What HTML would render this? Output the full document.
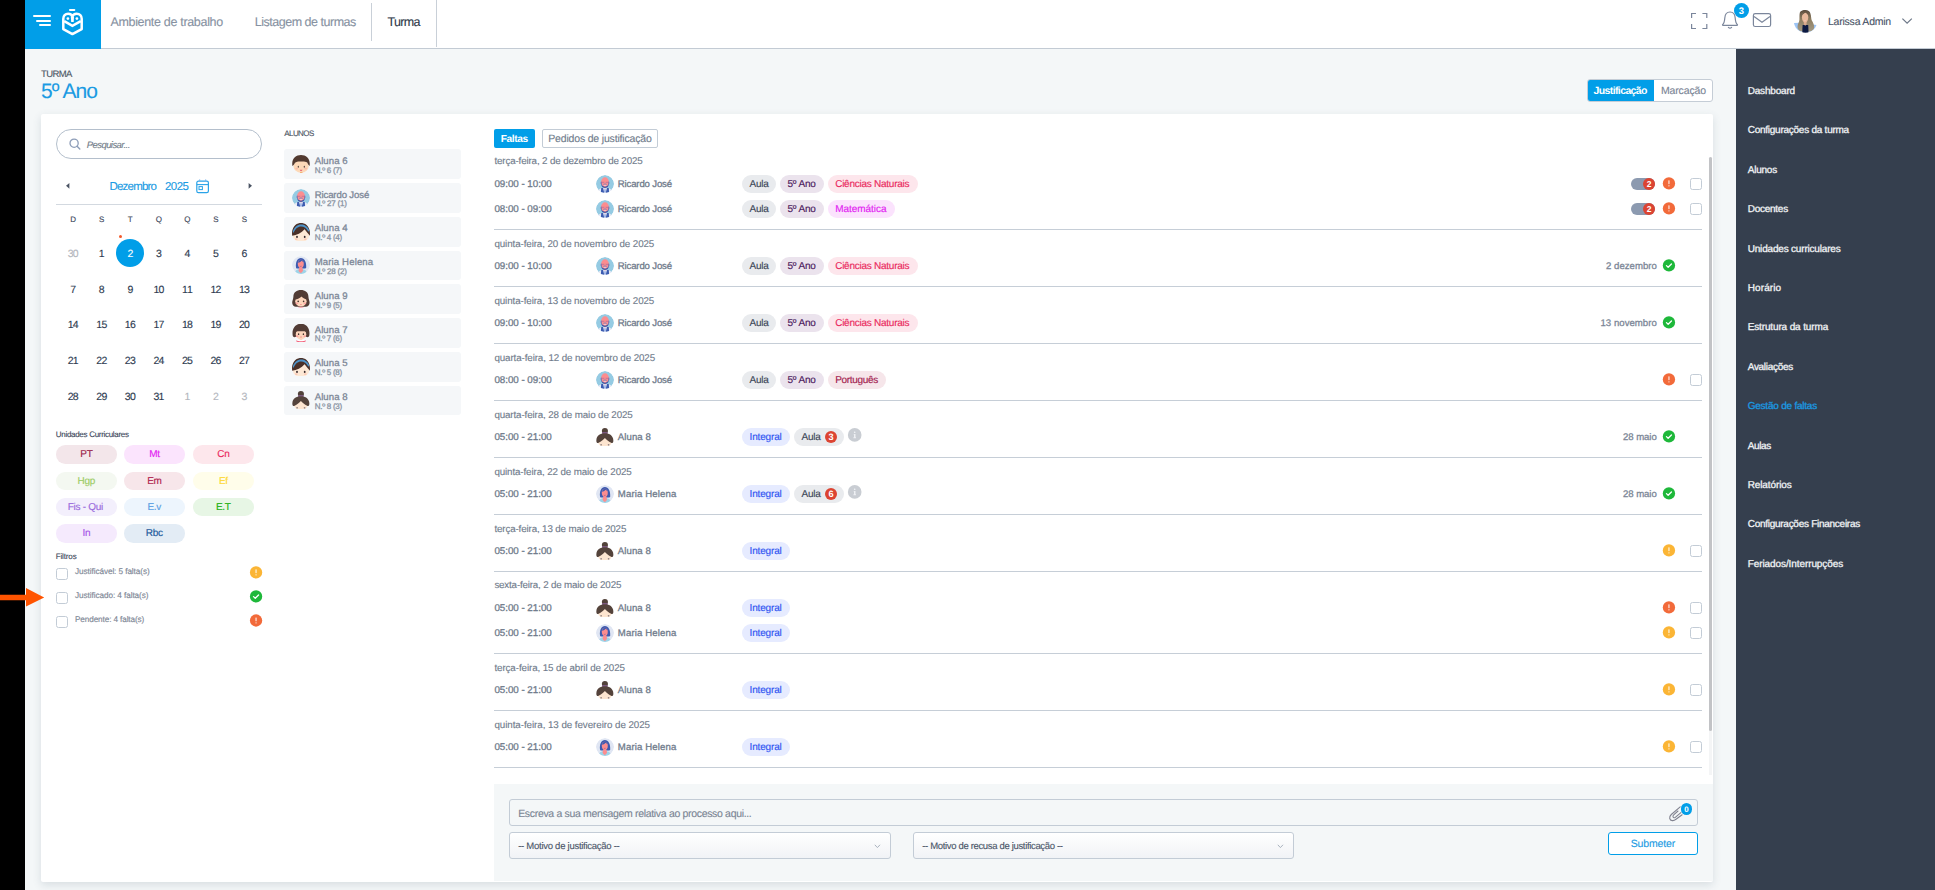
<!DOCTYPE html>
<html lang="pt"><head><meta charset="utf-8"><title>Turma - 5º Ano</title>
<style>
html,body{margin:0;padding:0;}
body{width:1935px;height:890px;overflow:hidden;background:#000;font-family:"Liberation Sans",sans-serif;position:relative;text-rendering:geometricPrecision;}
.b{position:absolute;box-sizing:border-box;}
.t{position:absolute;white-space:nowrap;line-height:20px;}
svg{position:absolute;overflow:visible;}
#app{position:absolute;left:25px;top:0;width:1910px;height:890px;background:#f4f7f8;}
</style></head><body>
<div id="app"></div>

<div class="b" style="left:25px;top:0px;width:1910px;height:48px;background:#fff;"></div>
<div class="b" style="left:25px;top:48px;width:1910px;height:1px;background:#c3cbd4;"></div>
<div class="b" style="left:25px;top:0px;width:76px;height:49px;background:#019ee8;"></div>
<div class="b" style="left:33px;top:15px;width:18px;height:2px;background:#fff;border-radius:1px;"></div>
<div class="b" style="left:36px;top:20px;width:15px;height:2px;background:#fff;border-radius:1px;"></div>
<div class="b" style="left:39px;top:24px;width:12px;height:2px;background:#fff;border-radius:1px;"></div>
<svg style="left:60px;top:7px" width="26" height="30" viewBox="60 7 26 30"><rect x="69" y="8.9" width="6.3" height="2.1" rx="0.9" fill="#fff"/><path d="M72.4 16.4 C71.8 14.4 70 13.7 68.2 13.7 C65.2 13.7 63.3 15.8 63.3 18.8 V29.1 L72.4 34.1 L81.7 29.1 V18.8 C81.7 15.8 79.7 13.7 76.7 13.7 C74.8 13.7 73 14.4 72.4 16.4 Z" fill="none" stroke="#fff" stroke-width="2.5" stroke-linejoin="round"/><path d="M64.2 21.2 L72.4 25.9 L80.8 21.2" fill="none" stroke="#fff" stroke-width="2.5" stroke-linejoin="miter"/><path d="M70.8 16.6 L74 16.6 L73.7 21.9 L71.2 21.9 Z" fill="#fff"/><circle cx="67.9" cy="18.6" r="1.35" fill="#fff"/><circle cx="76.9" cy="18.6" r="1.35" fill="#fff"/></svg>
<span class="t" style="left:110.40px;top:12px;font-size:12.5px;color:#8792a2;letter-spacing:-0.318px;-webkit-text-stroke:0.12px #8792a2;">Ambiente de trabalho</span>
<span class="t" style="left:254.80px;top:12px;font-size:12.5px;color:#8792a2;letter-spacing:-0.487px;-webkit-text-stroke:0.12px #8792a2;">Listagem de turmas</span>
<span class="t" style="left:387.50px;top:12px;font-size:12.5px;color:#2f3949;letter-spacing:-0.663px;-webkit-text-stroke:0.12px #2f3949;">Turma</span>
<div class="b" style="left:371px;top:3px;width:1px;height:38px;background:#c9d0d8;"></div>
<div class="b" style="left:436px;top:0px;width:1px;height:47px;background:#c9d0d8;"></div>
<svg style="left:1690px;top:12px" width="19" height="18" viewBox="0 0 19 18"><path d="M1.6 6 V1.5 H6 M12.4 1.5 H16.8 V6 M16.8 12 V16.5 H12.4 M6 16.5 H1.6 V12" fill="none" stroke="#7b869b" stroke-width="1.2"/></svg>
<svg style="left:1721px;top:10px" width="18" height="20" viewBox="0 0 18 20"><path d="M1.6 14.6 C3.4 13.2 3.6 11 3.8 8 C4 4.4 6 2 9 2 C12 2 14 4.4 14.2 8 C14.4 11 14.6 13.2 16.4 14.6 C16.6 15 16.4 15.3 16 15.3 H2 C1.6 15.3 1.4 15 1.6 14.6 Z" fill="none" stroke="#7b869b" stroke-width="1.2" stroke-linejoin="round"/><path d="M7.4 17.4 Q9 19 10.6 17.4" fill="none" stroke="#7b869b" stroke-width="1.2" stroke-linecap="round"/></svg>
<div class="b" style="left:1734px;top:2.9px;width:14.9px;height:14.9px;background:#019ee8;border-radius:50%;"></div>
<span class="t" style="left:1738.86px;top:2px;font-size:9.5px;color:#fff;font-weight:700;">3</span>
<svg style="left:1752px;top:12px" width="20" height="16" viewBox="0 0 20 16"><rect x="1.4" y="1.7" width="17.2" height="12.8" rx="1.8" fill="none" stroke="#7b869b" stroke-width="1.2"/><path d="M2 4.4 L10 10.2 L18 4.4" fill="none" stroke="#7b869b" stroke-width="1.2"/></svg>
<svg style="left:1794px;top:9px" width="24" height="25" viewBox="-1 -0.5 24 25"><defs><clipPath id="pc"><circle cx="10.5" cy="11.5" r="11.7"/></clipPath><linearGradient id="hg" x1="0" y1="0" x2="0" y2="1"><stop offset="0" stop-color="#5a4a3c"/><stop offset="0.45" stop-color="#8f7f62"/><stop offset="1" stop-color="#a39a84"/></linearGradient></defs><g clip-path="url(#pc)"><path d="M-1 13.6 L4 13.2 L7 22 L-1 24 Z M22 15.6 L17 15 L14 22.4 L22 24 Z" fill="#9cc4f5"/><path d="M5 2.6 C6 0.7 9 0.3 10.4 0.4 C13 0.4 15 1.6 15.4 4 C16.4 7 16 9 16.8 11 C18 13 19.5 15.6 19.1 18.4 C18.7 20.6 16.4 21.8 14.6 22 L6 21.8 C4 21.2 2.5 19.4 2.5 17.4 C2.5 14.6 4.2 13 4.4 10.6 C4.6 8 4.2 5 5 2.6 Z" fill="url(#hg)"/><path d="M7.6 15.4 L13.2 15.4 L13.6 23.6 L7.2 23.6 Z" fill="#0c1a42"/><path d="M8.8 11.4 h2.8 v3.6 l-1.4 1.2 l-1.4 -1.2 Z" fill="#d9a98e"/><ellipse cx="10.1" cy="7.8" rx="3.2" ry="5.2" fill="#e9b99c"/><path d="M6.9 6 C7.4 3 9 1.8 10.6 1.9 C12.4 2 13.4 3.6 13.4 6 C12.6 4.6 11.6 3.6 10.4 3.2 C9 3.8 7.6 4.8 6.9 6 Z" fill="#6a5844"/><path d="M8.6 10.2 Q10.1 11.4 11.6 10.2 Q10.1 10.8 8.6 10.2 Z" fill="#f5e6e0"/></g></svg>
<svg style="left:1901px;top:17px" width="12" height="8" viewBox="0 0 12 8"><path d="M1.4 1.6 L6.1 6.2 L10.8 1.6" fill="none" stroke="#6c7787" stroke-width="1.2"/></svg>
<span class="t" style="left:1828.00px;top:12px;font-size:10.5px;color:#4a5468;letter-spacing:-0.229px;-webkit-text-stroke:0.12px #4a5468;">Larissa Admin</span>
<span class="t" style="left:41.00px;top:65px;font-size:9.5px;color:#4b5563;letter-spacing:-0.619px;-webkit-text-stroke:0.12px #4b5563;">TURMA</span>
<span class="t" style="left:41.00px;top:82px;font-size:21px;color:#1b9be3;letter-spacing:-0.878px;-webkit-text-stroke:0.12px #1b9be3;">5º Ano</span>
<div class="b" style="left:1587px;top:79px;width:126px;height:23px;background:#fff;border:1px solid #c5cdd6;border-radius:3px;"></div>
<div class="b" style="left:1588px;top:80px;width:66px;height:21px;background:#019ee8;border-radius:2px 0 0 2px;"></div>
<span class="t" style="left:1593.50px;top:81px;font-size:10.5px;color:#fff;letter-spacing:-0.609px;font-weight:700;">Justificação</span>
<span class="t" style="left:1661.00px;top:81px;font-size:10.5px;color:#7a8595;letter-spacing:-0.158px;-webkit-text-stroke:0.12px #7a8595;">Marcação</span>
<div class="b" style="left:41px;top:114px;width:1672px;height:768px;background:#fff;border-radius:2px;box-shadow:0 3px 9px rgba(70,95,115,0.16);"></div>
<div class="b" style="left:1736px;top:49px;width:199px;height:841px;background:#353f4e;"></div>
<span class="t" style="left:1747.70px;top:82px;font-size:10px;color:#f1f3f5;letter-spacing:-0.178px;-webkit-text-stroke:0.3px #f1f3f5;">Dashboard</span>
<span class="t" style="left:1747.70px;top:121px;font-size:10px;color:#f1f3f5;letter-spacing:-0.249px;-webkit-text-stroke:0.3px #f1f3f5;">Configurações da turma</span>
<span class="t" style="left:1747.70px;top:161px;font-size:10px;color:#f1f3f5;letter-spacing:-0.215px;-webkit-text-stroke:0.3px #f1f3f5;">Alunos</span>
<span class="t" style="left:1747.70px;top:200px;font-size:10px;color:#f1f3f5;letter-spacing:-0.250px;-webkit-text-stroke:0.3px #f1f3f5;">Docentes</span>
<span class="t" style="left:1747.70px;top:240px;font-size:10px;color:#f1f3f5;letter-spacing:-0.186px;-webkit-text-stroke:0.3px #f1f3f5;">Unidades curriculares</span>
<span class="t" style="left:1747.70px;top:279px;font-size:10px;color:#f1f3f5;letter-spacing:0.118px;-webkit-text-stroke:0.3px #f1f3f5;">Horário</span>
<span class="t" style="left:1747.70px;top:318px;font-size:10px;color:#f1f3f5;letter-spacing:-0.136px;-webkit-text-stroke:0.3px #f1f3f5;">Estrutura da turma</span>
<span class="t" style="left:1747.70px;top:358px;font-size:10px;color:#f1f3f5;letter-spacing:-0.298px;-webkit-text-stroke:0.3px #f1f3f5;">Avaliações</span>
<span class="t" style="left:1747.70px;top:397px;font-size:10px;color:#1b9be3;letter-spacing:-0.222px;-webkit-text-stroke:0.3px #1b9be3;">Gestão de faltas</span>
<span class="t" style="left:1747.70px;top:437px;font-size:10px;color:#f1f3f5;letter-spacing:-0.379px;-webkit-text-stroke:0.3px #f1f3f5;">Aulas</span>
<span class="t" style="left:1747.70px;top:476px;font-size:10px;color:#f1f3f5;letter-spacing:-0.113px;-webkit-text-stroke:0.3px #f1f3f5;">Relatórios</span>
<span class="t" style="left:1747.70px;top:515px;font-size:10px;color:#f1f3f5;letter-spacing:-0.269px;-webkit-text-stroke:0.3px #f1f3f5;">Configurações Financeiras</span>
<span class="t" style="left:1747.70px;top:555px;font-size:10px;color:#f1f3f5;letter-spacing:-0.089px;-webkit-text-stroke:0.3px #f1f3f5;">Feriados/Interrupções</span>
<div class="b" style="left:56px;top:129px;width:206px;height:30px;border:1px solid #b4bfcc;border-radius:15px;background:#fff;"></div>
<svg style="left:68px;top:137px" width="14" height="14" viewBox="0 0 14 14"><circle cx="6.1" cy="6.2" r="4.1" fill="none" stroke="#8d9db8" stroke-width="1.3"/><path d="M9.1 9.3 L11.8 12" stroke="#8d9db8" stroke-width="1.4" stroke-linecap="round"/></svg>
<span class="t" style="left:86.80px;top:136px;font-size:9.5px;color:#737d8a;letter-spacing:-0.574px;-webkit-text-stroke:0.12px #737d8a;font-style:italic;">Pesquisar...</span>
<svg style="left:65px;top:181px" width="6" height="10" viewBox="0 0 6 10"><path d="M4.4 1.9 L4.4 7.7 L1 4.8 Z" fill="#4a5363"/></svg>
<svg style="left:247px;top:181px" width="6" height="10" viewBox="0 0 6 10"><path d="M1.6 1.9 L1.6 7.7 L5 4.8 Z" fill="#4a5363"/></svg>
<span class="t" style="left:109.40px;top:177px;font-size:11.5px;color:#1b9be3;letter-spacing:-0.778px;-webkit-text-stroke:0.12px #1b9be3;">Dezembro</span>
<span class="t" style="left:165.00px;top:177px;font-size:11.5px;color:#1b9be3;letter-spacing:-0.528px;-webkit-text-stroke:0.12px #1b9be3;">2025</span>
<svg style="left:196px;top:179px" width="14" height="15" viewBox="0 0 14 15"><rect x="0.8" y="2.2" width="11.6" height="11.4" rx="1.6" fill="none" stroke="#2aa3e8" stroke-width="1.2"/><path d="M0.8 5.6 H12.4" stroke="#2aa3e8" stroke-width="1.1"/><path d="M3.6 0.4 V2.4 M9.6 0.4 V2.4" stroke="#7fb6ee" stroke-width="1.2"/><rect x="3" y="7.6" width="3.4" height="3" fill="none" stroke="#2aa3e8" stroke-width="1"/></svg>
<div class="b" style="left:56px;top:204px;width:206px;height:1px;background:#d3d9e0;"></div>
<span class="t" style="left:70.36px;top:210px;font-size:8px;color:#3a4558;-webkit-text-stroke:0.12px #3a4558;">D</span>
<span class="t" style="left:99.11px;top:210px;font-size:8px;color:#3a4558;-webkit-text-stroke:0.12px #3a4558;">S</span>
<span class="t" style="left:127.87px;top:210px;font-size:8px;color:#3a4558;-webkit-text-stroke:0.12px #3a4558;">T</span>
<span class="t" style="left:155.73px;top:210px;font-size:8px;color:#3a4558;-webkit-text-stroke:0.12px #3a4558;">Q</span>
<span class="t" style="left:184.26px;top:210px;font-size:8px;color:#3a4558;-webkit-text-stroke:0.12px #3a4558;">Q</span>
<span class="t" style="left:213.23px;top:210px;font-size:8px;color:#3a4558;-webkit-text-stroke:0.12px #3a4558;">S</span>
<span class="t" style="left:241.76px;top:210px;font-size:8px;color:#3a4558;-webkit-text-stroke:0.12px #3a4558;">S</span>
<div class="b" style="left:116px;top:238.8px;width:28px;height:28px;background:#019ee8;border-radius:50%;"></div>
<div class="b" style="left:118.9px;top:235px;width:3px;height:3px;background:#f4592a;border-radius:50%;"></div>
<span class="t" style="left:67.80px;top:244px;font-size:10.5px;color:#b3b6bd;letter-spacing:-0.780px;-webkit-text-stroke:0.12px #b3b6bd;">30</span>
<span class="t" style="left:98.86px;top:244px;font-size:10.5px;color:#2d3a4f;-webkit-text-stroke:0.12px #2d3a4f;">1</span>
<span class="t" style="left:127.39px;top:244px;font-size:10.5px;color:#fff;-webkit-text-stroke:0.12px #fff;">2</span>
<span class="t" style="left:155.92px;top:244px;font-size:10.5px;color:#2d3a4f;-webkit-text-stroke:0.12px #2d3a4f;">3</span>
<span class="t" style="left:184.45px;top:244px;font-size:10.5px;color:#2d3a4f;-webkit-text-stroke:0.12px #2d3a4f;">4</span>
<span class="t" style="left:212.98px;top:244px;font-size:10.5px;color:#2d3a4f;-webkit-text-stroke:0.12px #2d3a4f;">5</span>
<span class="t" style="left:241.51px;top:244px;font-size:10.5px;color:#2d3a4f;-webkit-text-stroke:0.12px #2d3a4f;">6</span>
<span class="t" style="left:70.33px;top:280px;font-size:10.5px;color:#2d3a4f;-webkit-text-stroke:0.12px #2d3a4f;">7</span>
<span class="t" style="left:98.86px;top:280px;font-size:10.5px;color:#2d3a4f;-webkit-text-stroke:0.12px #2d3a4f;">8</span>
<span class="t" style="left:127.39px;top:280px;font-size:10.5px;color:#2d3a4f;-webkit-text-stroke:0.12px #2d3a4f;">9</span>
<span class="t" style="left:153.39px;top:280px;font-size:10.5px;color:#2d3a4f;letter-spacing:-0.780px;-webkit-text-stroke:0.12px #2d3a4f;">10</span>
<span class="t" style="left:181.92px;top:280px;font-size:10.5px;color:#2d3a4f;letter-spacing:-0.000px;-webkit-text-stroke:0.12px #2d3a4f;">11</span>
<span class="t" style="left:210.45px;top:280px;font-size:10.5px;color:#2d3a4f;letter-spacing:-0.780px;-webkit-text-stroke:0.12px #2d3a4f;">12</span>
<span class="t" style="left:238.98px;top:280px;font-size:10.5px;color:#2d3a4f;letter-spacing:-0.780px;-webkit-text-stroke:0.12px #2d3a4f;">13</span>
<span class="t" style="left:67.80px;top:315px;font-size:10.5px;color:#2d3a4f;letter-spacing:-0.780px;-webkit-text-stroke:0.12px #2d3a4f;">14</span>
<span class="t" style="left:96.33px;top:315px;font-size:10.5px;color:#2d3a4f;letter-spacing:-0.780px;-webkit-text-stroke:0.12px #2d3a4f;">15</span>
<span class="t" style="left:124.86px;top:315px;font-size:10.5px;color:#2d3a4f;letter-spacing:-0.780px;-webkit-text-stroke:0.12px #2d3a4f;">16</span>
<span class="t" style="left:153.39px;top:315px;font-size:10.5px;color:#2d3a4f;letter-spacing:-0.780px;-webkit-text-stroke:0.12px #2d3a4f;">17</span>
<span class="t" style="left:181.92px;top:315px;font-size:10.5px;color:#2d3a4f;letter-spacing:-0.780px;-webkit-text-stroke:0.12px #2d3a4f;">18</span>
<span class="t" style="left:210.45px;top:315px;font-size:10.5px;color:#2d3a4f;letter-spacing:-0.780px;-webkit-text-stroke:0.12px #2d3a4f;">19</span>
<span class="t" style="left:238.98px;top:315px;font-size:10.5px;color:#2d3a4f;letter-spacing:-0.780px;-webkit-text-stroke:0.12px #2d3a4f;">20</span>
<span class="t" style="left:67.80px;top:351px;font-size:10.5px;color:#2d3a4f;letter-spacing:-0.780px;-webkit-text-stroke:0.12px #2d3a4f;">21</span>
<span class="t" style="left:96.33px;top:351px;font-size:10.5px;color:#2d3a4f;letter-spacing:-0.780px;-webkit-text-stroke:0.12px #2d3a4f;">22</span>
<span class="t" style="left:124.86px;top:351px;font-size:10.5px;color:#2d3a4f;letter-spacing:-0.780px;-webkit-text-stroke:0.12px #2d3a4f;">23</span>
<span class="t" style="left:153.39px;top:351px;font-size:10.5px;color:#2d3a4f;letter-spacing:-0.780px;-webkit-text-stroke:0.12px #2d3a4f;">24</span>
<span class="t" style="left:181.92px;top:351px;font-size:10.5px;color:#2d3a4f;letter-spacing:-0.780px;-webkit-text-stroke:0.12px #2d3a4f;">25</span>
<span class="t" style="left:210.45px;top:351px;font-size:10.5px;color:#2d3a4f;letter-spacing:-0.780px;-webkit-text-stroke:0.12px #2d3a4f;">26</span>
<span class="t" style="left:238.98px;top:351px;font-size:10.5px;color:#2d3a4f;letter-spacing:-0.780px;-webkit-text-stroke:0.12px #2d3a4f;">27</span>
<span class="t" style="left:67.80px;top:387px;font-size:10.5px;color:#2d3a4f;letter-spacing:-0.780px;-webkit-text-stroke:0.12px #2d3a4f;">28</span>
<span class="t" style="left:96.33px;top:387px;font-size:10.5px;color:#2d3a4f;letter-spacing:-0.780px;-webkit-text-stroke:0.12px #2d3a4f;">29</span>
<span class="t" style="left:124.86px;top:387px;font-size:10.5px;color:#2d3a4f;letter-spacing:-0.780px;-webkit-text-stroke:0.12px #2d3a4f;">30</span>
<span class="t" style="left:153.39px;top:387px;font-size:10.5px;color:#2d3a4f;letter-spacing:-0.780px;-webkit-text-stroke:0.12px #2d3a4f;">31</span>
<span class="t" style="left:184.45px;top:387px;font-size:10.5px;color:#b3b6bd;-webkit-text-stroke:0.12px #b3b6bd;">1</span>
<span class="t" style="left:212.98px;top:387px;font-size:10.5px;color:#b3b6bd;-webkit-text-stroke:0.12px #b3b6bd;">2</span>
<span class="t" style="left:241.51px;top:387px;font-size:10.5px;color:#b3b6bd;-webkit-text-stroke:0.12px #b3b6bd;">3</span>
<span class="t" style="left:55.80px;top:425px;font-size:8px;color:#3a4558;letter-spacing:-0.297px;-webkit-text-stroke:0.12px #3a4558;">Unidades Curriculares</span>
<div class="b" style="left:56.1px;top:445.1px;width:60.8px;height:18.5px;background:#f3e6ea;border-radius:9.3px;"></div>
<span class="t" style="left:80.31px;top:445px;font-size:10px;color:#9c1f4c;-webkit-text-stroke:0.16px #9c1f4c;letter-spacing:-0.3px;">PT</span>
<div class="b" style="left:124.1px;top:445.1px;width:60.8px;height:18.5px;background:#fbe4fd;border-radius:9.3px;"></div>
<span class="t" style="left:149.15px;top:445px;font-size:10px;color:#e320f2;-webkit-text-stroke:0.16px #e320f2;letter-spacing:-0.3px;">Mt</span>
<div class="b" style="left:193.1px;top:445.1px;width:60.8px;height:18.5px;background:#fde7ec;border-radius:9.3px;"></div>
<span class="t" style="left:217.31px;top:445px;font-size:10px;color:#ea2a5e;-webkit-text-stroke:0.16px #ea2a5e;letter-spacing:-0.3px;">Cn</span>
<div class="b" style="left:56.1px;top:471.5px;width:60.8px;height:18.5px;background:#f4f8f1;border-radius:9.3px;"></div>
<span class="t" style="left:77.53px;top:472px;font-size:10px;color:#9ccc65;-webkit-text-stroke:0.16px #9ccc65;letter-spacing:-0.3px;">Hgp</span>
<div class="b" style="left:124.1px;top:471.5px;width:60.8px;height:18.5px;background:#f7e6ea;border-radius:9.3px;"></div>
<span class="t" style="left:147.20px;top:472px;font-size:10px;color:#b01e4e;-webkit-text-stroke:0.16px #b01e4e;letter-spacing:-0.3px;">Em</span>
<div class="b" style="left:193.1px;top:471.5px;width:60.8px;height:18.5px;background:#fffdea;border-radius:9.3px;"></div>
<span class="t" style="left:218.98px;top:472px;font-size:10px;color:#fdd835;-webkit-text-stroke:0.16px #fdd835;letter-spacing:-0.3px;">Ef</span>
<div class="b" style="left:56.1px;top:497.8px;width:60.8px;height:18.5px;background:#f3effc;border-radius:9.3px;"></div>
<span class="t" style="left:67.81px;top:498px;font-size:10px;color:#9a6bdc;-webkit-text-stroke:0.16px #9a6bdc;letter-spacing:-0.3px;">Fis - Qui</span>
<div class="b" style="left:124.1px;top:497.8px;width:60.8px;height:18.5px;background:#edf5fd;border-radius:9.3px;"></div>
<span class="t" style="left:147.48px;top:498px;font-size:10px;color:#5b9fe3;-webkit-text-stroke:0.16px #5b9fe3;letter-spacing:-0.3px;">E.v</span>
<div class="b" style="left:193.1px;top:497.8px;width:60.8px;height:18.5px;background:#e7f6e5;border-radius:9.3px;"></div>
<span class="t" style="left:215.92px;top:498px;font-size:10px;color:#1eb010;-webkit-text-stroke:0.16px #1eb010;letter-spacing:-0.3px;">E.T</span>
<div class="b" style="left:56.1px;top:524.2px;width:60.8px;height:18.5px;background:#f5eafd;border-radius:9.3px;"></div>
<span class="t" style="left:82.53px;top:524px;font-size:10px;color:#a855e8;-webkit-text-stroke:0.16px #a855e8;letter-spacing:-0.3px;">In</span>
<div class="b" style="left:124.1px;top:524.2px;width:60.8px;height:18.5px;background:#e3ecf5;border-radius:9.3px;"></div>
<span class="t" style="left:145.81px;top:524px;font-size:10px;color:#1e5a9c;-webkit-text-stroke:0.16px #1e5a9c;letter-spacing:-0.3px;">Rbc</span>
<span class="t" style="left:55.70px;top:547px;font-size:8px;color:#3a4558;letter-spacing:-0.130px;-webkit-text-stroke:0.12px #3a4558;">Filtros</span>
<div class="b" style="left:56.2px;top:568.2px;width:11.8px;height:11.7px;border:1px solid #c3ccd6;border-radius:2.5px;background:#fff;"></div>
<span class="t" style="left:75.00px;top:562px;font-size:8.2px;color:#7f8997;letter-spacing:-0.077px;-webkit-text-stroke:0.16px #7f8997;">Justificável: 5 falta(s)</span>
<svg style="left:248px;top:565px" width="16" height="16" viewBox="0 0 16 16"><g transform="translate(1.85 1.20)"><circle cx="6.2" cy="6.2" r="6.15" fill="#fbb535"/><rect x="5.65" y="3.1" width="1.1" height="3.9" rx="0.4" fill="#fff" opacity="0.92"/><rect x="5.65" y="8" width="1.1" height="1.2" rx="0.4" fill="#fff" opacity="0.92"/></g></svg>
<div class="b" style="left:56.2px;top:592.2px;width:11.8px;height:11.7px;border:1px solid #c3ccd6;border-radius:2.5px;background:#fff;"></div>
<span class="t" style="left:75.00px;top:586px;font-size:8.2px;color:#7f8997;letter-spacing:-0.073px;-webkit-text-stroke:0.16px #7f8997;">Justificado: 4 falta(s)</span>
<svg style="left:248px;top:589px" width="16" height="16" viewBox="0 0 16 16"><g transform="translate(1.85 1.25)"><circle cx="6.2" cy="6.2" r="6.15" fill="#1eb83a"/><path d="M3.7 6.4 L5.4 8 L8.7 4.7" fill="none" stroke="#fff" stroke-width="1.3" stroke-linecap="round" stroke-linejoin="round"/></g></svg>
<div class="b" style="left:56.2px;top:616.3px;width:11.8px;height:11.7px;border:1px solid #c3ccd6;border-radius:2.5px;background:#fff;"></div>
<span class="t" style="left:75.00px;top:610px;font-size:8.2px;color:#7f8997;letter-spacing:-0.114px;-webkit-text-stroke:0.16px #7f8997;">Pendente: 4 falta(s)</span>
<svg style="left:248px;top:613px" width="16" height="16" viewBox="0 0 16 16"><g transform="translate(1.85 1.30)"><circle cx="6.2" cy="6.2" r="6.15" fill="#f26a3a"/><rect x="5.65" y="3.1" width="1.1" height="3.9" rx="0.4" fill="#fff" opacity="0.92"/><rect x="5.65" y="8" width="1.1" height="1.2" rx="0.4" fill="#fff" opacity="0.92"/></g></svg>
<svg width="0" height="0" style="position:absolute;left:-10px;top:-10px"><defs>
<symbol id="av-boy" viewBox="0 0 18 18">
 <ellipse cx="9.1" cy="11.2" rx="7.6" ry="6.3" fill="#fdd9b8"/>
 <rect x="7.9" y="17" width="2.6" height="1" fill="#f4b27a"/>
 <path d="M0.4 10.9 C-0.7 4 3.6 0.1 9 0.1 C14.4 0.1 18.7 4 17.6 10.9 C16.6 10.6 15.8 9 15.2 7.6 C13 6.3 11 6.3 9 6.6 C6.6 6.3 4.6 6.8 3 7.8 C2.4 9.2 1.4 10.6 0.4 10.9 Z" fill="#523a30"/>
 <ellipse cx="6.3" cy="11.8" rx="0.6" ry="1" fill="#4a3a38"/><ellipse cx="12.3" cy="11.8" rx="0.6" ry="1" fill="#4a3a38"/>
 <ellipse cx="4.7" cy="13.6" rx="1.4" ry="0.9" fill="#fbb3a4" opacity="0.75"/><ellipse cx="13.6" cy="13.6" rx="1.4" ry="0.9" fill="#fbb3a4" opacity="0.75"/>
 <path d="M7.8 14.5 Q9.1 15.2 10.4 14.5 Q10.4 16.3 9.1 16.3 Q7.8 16.3 7.8 14.5 Z" fill="#e8707a"/>
</symbol>
<symbol id="av-ric" viewBox="0 0 18 18">
 <clipPath id="cr"><circle cx="9" cy="9" r="9"/></clipPath>
 <g clip-path="url(#cr)">
 <circle cx="9" cy="9" r="9" fill="#95cbe3"/>
 <path d="M1.4 16 C3.4 13.6 5.6 13 7 12.8 L11 12.8 C12.4 13 14.6 13.6 16.6 16 L15 19 L3 19 Z" fill="#e6e9f5"/>
 <path d="M5 18.2 L5.5 13.2 L9 12.4 L12.5 13.2 L13 18.2 Z" fill="#eef0f9"/>
 <path d="M4.9 17.4 L5.2 13.1 L7.1 12.9 L8.3 18 Z M13.1 17.4 L12.8 13.1 L10.9 12.9 L9.7 18 Z" fill="#3b5bb0"/>
 <path d="M8.5 13.8 h1 l0.5 2.4 l-1 1.8 l-1 -1.8 Z" fill="#9db3e6"/>
 <rect x="8" y="11.6" width="2" height="1.6" fill="#f9868c"/>
 <path d="M5.2 8.6 C5.2 12.6 7.4 12.9 9 12.9 C10.6 12.9 12.8 12.6 12.8 8.6 Z" fill="#3d57a8"/>
 <ellipse cx="9" cy="7" rx="3.9" ry="4.7" fill="#fc8d8f"/>
 <rect x="4.7" y="6.5" width="1" height="2.6" rx="0.4" fill="#7d67a6"/><rect x="12.3" y="6.5" width="1" height="2.6" rx="0.4" fill="#7d67a6"/>
 <path d="M5.6 7.3 h2.7 M9.7 7.3 h2.7" stroke="#b06a98" stroke-width="0.7"/>
 <ellipse cx="9" cy="9.2" rx="1.9" ry="0.65" fill="#8f7fae"/>
 <ellipse cx="9" cy="10.3" rx="1.5" ry="0.5" fill="#f6cfd6"/>
 </g>
</symbol>
<symbol id="av-band" viewBox="0 0 18 18">
 <ellipse cx="9" cy="12.4" rx="8.2" ry="6.5" fill="#fde8d5"/>
 <path d="M0.2 12.7 C-0.9 5 3.6 -0.1 9 -0.1 C14.4 -0.1 18.9 5 17.8 12.7 C16.4 11 14.4 8.6 12.6 6.3 C9.6 10 4.4 12.3 0.2 12.7 Z" fill="#4a3028"/>
 <path d="M0.8 8.6 C2.4 3.8 5.6 1.6 9 1.6 C12.4 1.6 15.7 3.4 17.3 7.4 L16.4 8.7 C14.7 5.2 12 3.4 9 3.4 C6 3.4 3.2 5.4 1.5 10 Z" fill="#4e93c8"/>
 <ellipse cx="5" cy="13.9" rx="0.9" ry="1.05" fill="#33262a"/><ellipse cx="12.7" cy="13.9" rx="0.9" ry="1.05" fill="#33262a"/>
 <ellipse cx="4.3" cy="16.1" rx="1.4" ry="0.85" fill="#fbc0ae" opacity="0.85"/><ellipse cx="13.3" cy="16.1" rx="1.4" ry="0.85" fill="#fbc0ae" opacity="0.85"/>
</symbol>
<symbol id="av-mh" viewBox="0 0 18 18">
 <clipPath id="cm"><circle cx="9" cy="9" r="9"/></clipPath>
 <g clip-path="url(#cm)">
 <circle cx="9" cy="9" r="9" fill="#e0e6f3"/>
 <path d="M4 11.6 C3.4 6 5.4 2 8.9 2 C12.4 2 14.6 6 14.2 11.6 C14.2 12.4 13.4 12.6 12.6 12.4 L5.4 12.4 C4.6 12.6 4 12.4 4 11.6 Z" fill="#3e5bb0"/>
 <ellipse cx="8.8" cy="15.7" rx="5.3" ry="2.7" fill="#9dd4e8"/>
 <path d="M7.5 10.6 L10.2 10.6 L10.4 12.6 C11.4 13.8 11.2 15.4 10 16.2 L8.8 16.9 L7.6 16.2 C6.4 15.4 6.2 13.8 7.2 12.6 Z" fill="#fc8d8f"/>
 <ellipse cx="8.8" cy="7.7" rx="3" ry="3.9" fill="#fc8d8f"/>
 <path d="M5.9 6.8 C6.4 4.6 7.6 3.7 9.2 3.8 C10.4 3.9 11.4 4.6 11.8 6.2 C10.8 5.8 10.2 5.3 9.6 4.7 C8.8 5.8 7.2 6.6 5.9 6.8 Z" fill="#3e5bb0"/>
 <path d="M7.9 10.2 Q8.8 10.8 9.7 10.2" stroke="#8a5a9a" stroke-width="0.6" fill="none"/>
 </g>
</symbol>
<symbol id="av-bob" viewBox="0 0 18 18">
 <path d="M6 17.2 Q8.8 18.6 11.8 17.2 L11.4 16 L6.4 16 Z" fill="#f9a7b4"/>
 <path d="M1.4 6.4 C1.4 2.4 4.8 0 8.9 0 C13 0 16.4 2.4 16.4 6.4 C16.4 9 17.8 10.6 17.6 13 C17.4 15.6 15.4 17.2 13.2 16.8 L4.6 16.8 C2.4 17.2 0.4 15.6 0.2 13 C0 10.6 1.4 9 1.4 6.4 Z" fill="#523c35"/>
 <ellipse cx="8.9" cy="11.2" rx="5.7" ry="5.2" fill="#fdd5bb"/>
 <path d="M3 9.6 C3.2 6.4 5.6 5.2 8.9 5.2 C12.2 5.2 14.6 6.4 14.8 9.6 C12.6 9 10.6 7.8 9.6 6.6 C8.2 8.2 5.4 9.4 3 9.6 Z" fill="#523c35"/>
 <circle cx="6.2" cy="11.4" r="0.8" fill="#43302c"/><circle cx="11.6" cy="11.4" r="0.8" fill="#43302c"/>
 <ellipse cx="4.9" cy="13.3" rx="1.4" ry="0.9" fill="#f9969a" opacity="0.8"/><ellipse cx="12.9" cy="13.3" rx="1.4" ry="0.9" fill="#f9969a" opacity="0.8"/>
 <path d="M7.8 14 Q8.9 15.2 10 14 Z" fill="#e85a6a"/>
</symbol>
<symbol id="av-bob2" viewBox="0 0 18 18">
 <path d="M0.7 11.6 C-0.4 4.6 3.6 -0.3 9 -0.3 C14.4 -0.3 18.4 4.6 17.3 11.6 C17 13.4 15.2 13.6 14.2 12.8 L3.8 12.8 C2.8 13.6 1 13.4 0.7 11.6 Z" fill="#523c35"/>
 <rect x="7.8" y="14.4" width="2.4" height="2" fill="#fbc9a8"/>
 <path d="M4.4 16.6 C6 15.4 12 15.4 13.6 16.6 C12.4 18.2 5.6 18.2 4.4 16.6 Z" fill="#fff"/>
 <path d="M4.2 16.2 C6.4 17.6 11.6 17.6 13.8 16.2 L13.6 17.4 C11.4 18.8 6.6 18.8 4.4 17.4 Z" fill="#f4607a"/>
 <ellipse cx="9" cy="10.4" rx="5.3" ry="5" fill="#fdd5bb"/>
 <path d="M3.2 7.6 C3.8 5 6 4.2 9 4.2 C12 4.2 14.2 5 14.8 7.6 C11 7 7 7 3.2 7.6 Z" fill="#523c35"/>
 <ellipse cx="6.6" cy="10.2" rx="0.7" ry="0.9" fill="#43302c"/><ellipse cx="11.4" cy="10.2" rx="0.7" ry="0.9" fill="#43302c"/>
 <ellipse cx="5.2" cy="12.2" rx="1.3" ry="0.85" fill="#f9969a" opacity="0.8"/><ellipse cx="12.8" cy="12.2" rx="1.3" ry="0.85" fill="#f9969a" opacity="0.8"/>
 <path d="M7.9 12.8 Q9 14.1 10.1 12.8 Z" fill="#e85a6a"/>
</symbol>
<symbol id="av-bun" viewBox="0 0 18 18">
 <clipPath id="cb"><rect x="-1" y="-1" width="20" height="19.2"/></clipPath>
 <g clip-path="url(#cb)">
 <ellipse cx="8.9" cy="13.6" rx="6.9" ry="5.6" fill="#fde5d0"/>
 <circle cx="8.9" cy="3.1" r="3.05" fill="#52423a"/>
 <rect x="6.1" y="4.3" width="5.5" height="1.75" rx="0.4" fill="#8a6096"/>
 <path d="M0.4 13.4 C-0.2 8.2 4 5.3 8.9 5.3 C13.8 5.3 17.8 8.2 17.3 13.4 C17 14.8 16 15.4 15.1 14.7 C12.6 13.3 10.4 11.7 8.9 9.9 C7.4 11.7 5.2 13.3 2.6 14.7 C1.7 15.4 0.7 14.8 0.4 13.4 Z" fill="#54433b"/>
 <ellipse cx="5.1" cy="16.8" rx="0.9" ry="0.6" fill="#6a6068"/><ellipse cx="12.6" cy="16.8" rx="0.9" ry="0.6" fill="#6a6068"/>
 </g>
</symbol>
</defs></svg>
<span class="t" style="left:284.30px;top:124px;font-size:8px;color:#4a5363;letter-spacing:-0.580px;-webkit-text-stroke:0.12px #4a5363;">ALUNOS</span>
<div class="b" style="left:284px;top:149.3px;width:177px;height:29.8px;background:#f5f7f9;border-radius:3px;"></div>
<svg style="left:292.2px;top:155.1px" width="18" height="18"><use href="#av-boy"/></svg>
<span class="t" style="left:314.70px;top:152px;font-size:9.6px;color:#7c8797;letter-spacing:0.073px;-webkit-text-stroke:0.3px #7c8797;">Aluna 6</span>
<span class="t" style="left:314.70px;top:161px;font-size:8px;color:#8a94a3;letter-spacing:-0.262px;-webkit-text-stroke:0.3px #8a94a3;">N.º 6 (7)</span>
<div class="b" style="left:284px;top:183.05px;width:177px;height:29.8px;background:#f5f7f9;border-radius:3px;"></div>
<svg style="left:292.2px;top:188.85px" width="18" height="18"><use href="#av-ric"/></svg>
<span class="t" style="left:314.70px;top:186px;font-size:9.6px;color:#7c8797;letter-spacing:-0.130px;-webkit-text-stroke:0.3px #7c8797;">Ricardo José</span>
<span class="t" style="left:314.70px;top:194px;font-size:8px;color:#8a94a3;letter-spacing:-0.194px;-webkit-text-stroke:0.3px #8a94a3;">N.º 27 (1)</span>
<div class="b" style="left:284px;top:216.8px;width:177px;height:29.8px;background:#f5f7f9;border-radius:3px;"></div>
<svg style="left:292.2px;top:222.6px" width="18" height="18"><use href="#av-band"/></svg>
<span class="t" style="left:314.70px;top:219px;font-size:9.6px;color:#7c8797;letter-spacing:0.073px;-webkit-text-stroke:0.3px #7c8797;">Aluna 4</span>
<span class="t" style="left:314.70px;top:228px;font-size:8px;color:#8a94a3;letter-spacing:-0.262px;-webkit-text-stroke:0.3px #8a94a3;">N.º 4 (4)</span>
<div class="b" style="left:284px;top:250.55px;width:177px;height:29.8px;background:#f5f7f9;border-radius:3px;"></div>
<svg style="left:292.2px;top:256.35px" width="18" height="18"><use href="#av-mh"/></svg>
<span class="t" style="left:314.70px;top:253px;font-size:9.6px;color:#7c8797;letter-spacing:0.128px;-webkit-text-stroke:0.3px #7c8797;">Maria Helena</span>
<span class="t" style="left:314.70px;top:262px;font-size:8px;color:#8a94a3;letter-spacing:-0.194px;-webkit-text-stroke:0.3px #8a94a3;">N.º 28 (2)</span>
<div class="b" style="left:284px;top:284.3px;width:177px;height:29.8px;background:#f5f7f9;border-radius:3px;"></div>
<svg style="left:292.2px;top:290.1px" width="18" height="18"><use href="#av-bob"/></svg>
<span class="t" style="left:314.70px;top:287px;font-size:9.6px;color:#7c8797;letter-spacing:0.073px;-webkit-text-stroke:0.3px #7c8797;">Aluna 9</span>
<span class="t" style="left:314.70px;top:296px;font-size:8px;color:#8a94a3;letter-spacing:-0.262px;-webkit-text-stroke:0.3px #8a94a3;">N.º 9 (5)</span>
<div class="b" style="left:284px;top:318.05px;width:177px;height:29.8px;background:#f5f7f9;border-radius:3px;"></div>
<svg style="left:292.2px;top:323.85px" width="18" height="18"><use href="#av-bob2"/></svg>
<span class="t" style="left:314.70px;top:321px;font-size:9.6px;color:#7c8797;letter-spacing:0.073px;-webkit-text-stroke:0.3px #7c8797;">Aluna 7</span>
<span class="t" style="left:314.70px;top:329px;font-size:8px;color:#8a94a3;letter-spacing:-0.262px;-webkit-text-stroke:0.3px #8a94a3;">N.º 7 (6)</span>
<div class="b" style="left:284px;top:351.8px;width:177px;height:29.8px;background:#f5f7f9;border-radius:3px;"></div>
<svg style="left:292.2px;top:357.6px" width="18" height="18"><use href="#av-band"/></svg>
<span class="t" style="left:314.70px;top:354px;font-size:9.6px;color:#7c8797;letter-spacing:0.073px;-webkit-text-stroke:0.3px #7c8797;">Aluna 5</span>
<span class="t" style="left:314.70px;top:363px;font-size:8px;color:#8a94a3;letter-spacing:-0.262px;-webkit-text-stroke:0.3px #8a94a3;">N.º 5 (8)</span>
<div class="b" style="left:284px;top:385.55px;width:177px;height:29.8px;background:#f5f7f9;border-radius:3px;"></div>
<svg style="left:292.2px;top:391.35px" width="18" height="18"><use href="#av-bun"/></svg>
<span class="t" style="left:314.70px;top:388px;font-size:9.6px;color:#7c8797;letter-spacing:0.073px;-webkit-text-stroke:0.3px #7c8797;">Aluna 8</span>
<span class="t" style="left:314.70px;top:397px;font-size:8px;color:#8a94a3;letter-spacing:-0.262px;-webkit-text-stroke:0.3px #8a94a3;">N.º 8 (3)</span>
<div class="b" style="left:494px;top:129px;width:41px;height:19px;background:#019ee8;border-radius:2px;"></div>
<span class="t" style="left:500.75px;top:130px;font-size:10.2px;color:#fff;letter-spacing:-0.396px;font-weight:700;">Faltas</span>
<div class="b" style="left:542px;top:129px;width:116px;height:19px;background:#fff;border:1px solid #c3ccd6;border-radius:2px;"></div>
<span class="t" style="left:548.25px;top:129px;font-size:10.5px;color:#6f7b8b;letter-spacing:-0.177px;-webkit-text-stroke:0.12px #6f7b8b;">Pedidos de justificação</span>
<span class="t" style="left:494.40px;top:152px;font-size:9.8px;color:#6f7b8b;letter-spacing:-0.142px;-webkit-text-stroke:0.12px #6f7b8b;">terça-feira, 2 de dezembro de 2025</span>
<span class="t" style="left:494.40px;top:175px;font-size:9.8px;color:#6f7b8b;letter-spacing:-0.030px;-webkit-text-stroke:0.3px #6f7b8b;">09:00 - 10:00</span>
<svg style="left:596px;top:174.75px" width="18" height="18"><use href="#av-ric"/></svg>
<span class="t" style="left:617.80px;top:175px;font-size:9.6px;color:#6f7b8b;letter-spacing:-0.157px;-webkit-text-stroke:0.3px #6f7b8b;">Ricardo José</span>
<div class="b" style="left:742.0px;top:174.8px;width:34px;height:18px;background:#e9ebee;border-radius:9px;"></div>
<span class="t" style="left:749.60px;top:175px;font-size:10px;color:#3d4858;letter-spacing:-0.272px;-webkit-text-stroke:0.16px #3d4858;">Aula</span>
<div class="b" style="left:779.8px;top:174.8px;width:44px;height:18px;background:#ebe3ed;border-radius:9px;"></div>
<span class="t" style="left:787.40px;top:175px;font-size:10px;color:#4b1a5c;letter-spacing:-0.147px;-webkit-text-stroke:0.16px #4b1a5c;">5º Ano</span>
<div class="b" style="left:827.6px;top:174.8px;width:90px;height:18px;background:#fde6ec;border-radius:9px;"></div>
<span class="t" style="left:835.20px;top:175px;font-size:10px;color:#ea2a60;letter-spacing:-0.254px;-webkit-text-stroke:0.16px #ea2a60;">Ciências Naturais</span>
<div class="b" style="left:1630.9px;top:177.8px;width:24.2px;height:12px;background:#8c9ab0;border-radius:6px;"></div><div class="b" style="left:1643.0px;top:177.8px;width:12.1px;height:12px;background:#dc4432;border-radius:50%;"></div><span class="t" style="left:1646.74px;top:174px;font-size:8.5px;color:#fff;font-weight:700;">2</span>
<svg style="left:1661px;top:176px" width="16" height="16" viewBox="0 0 16 16"><g transform="translate(1.75 1.20)"><circle cx="6.2" cy="6.2" r="6.15" fill="#f26a3a"/><rect x="5.65" y="3.1" width="1.1" height="3.9" rx="0.4" fill="#fff" opacity="0.92"/><rect x="5.65" y="8" width="1.1" height="1.2" rx="0.4" fill="#fff" opacity="0.92"/></g></svg>
<div class="b" style="left:1690.1px;top:177.9px;width:11.8px;height:11.7px;border:1px solid #c3ccd6;border-radius:2.5px;background:#fff;"></div>
<span class="t" style="left:494.40px;top:200px;font-size:9.8px;color:#6f7b8b;letter-spacing:-0.030px;-webkit-text-stroke:0.3px #6f7b8b;">08:00 - 09:00</span>
<svg style="left:596px;top:199.8px" width="18" height="18"><use href="#av-ric"/></svg>
<span class="t" style="left:617.80px;top:200px;font-size:9.6px;color:#6f7b8b;letter-spacing:-0.157px;-webkit-text-stroke:0.3px #6f7b8b;">Ricardo José</span>
<div class="b" style="left:742.0px;top:199.9px;width:34px;height:18px;background:#e9ebee;border-radius:9px;"></div>
<span class="t" style="left:749.60px;top:200px;font-size:10px;color:#3d4858;letter-spacing:-0.272px;-webkit-text-stroke:0.16px #3d4858;">Aula</span>
<div class="b" style="left:779.8px;top:199.9px;width:44px;height:18px;background:#ebe3ed;border-radius:9px;"></div>
<span class="t" style="left:787.40px;top:200px;font-size:10px;color:#4b1a5c;letter-spacing:-0.147px;-webkit-text-stroke:0.16px #4b1a5c;">5º Ano</span>
<div class="b" style="left:827.6px;top:199.9px;width:67px;height:18px;background:#fbe3fd;border-radius:9px;"></div>
<span class="t" style="left:835.20px;top:200px;font-size:10px;color:#e222f2;letter-spacing:-0.043px;-webkit-text-stroke:0.16px #e222f2;">Matemática</span>
<div class="b" style="left:1630.9px;top:202.9px;width:24.2px;height:12px;background:#8c9ab0;border-radius:6px;"></div><div class="b" style="left:1643.0px;top:202.9px;width:12.1px;height:12px;background:#dc4432;border-radius:50%;"></div><span class="t" style="left:1646.74px;top:199px;font-size:8.5px;color:#fff;font-weight:700;">2</span>
<svg style="left:1661px;top:201px" width="16" height="16" viewBox="0 0 16 16"><g transform="translate(1.75 1.25)"><circle cx="6.2" cy="6.2" r="6.15" fill="#f26a3a"/><rect x="5.65" y="3.1" width="1.1" height="3.9" rx="0.4" fill="#fff" opacity="0.92"/><rect x="5.65" y="8" width="1.1" height="1.2" rx="0.4" fill="#fff" opacity="0.92"/></g></svg>
<div class="b" style="left:1690.1px;top:203.0px;width:11.8px;height:11.7px;border:1px solid #c3ccd6;border-radius:2.5px;background:#fff;"></div>
<div class="b" style="left:494px;top:229px;width:1208px;height:1px;background:#c6ced7;"></div>
<span class="t" style="left:494.40px;top:235px;font-size:9.8px;color:#6f7b8b;letter-spacing:-0.099px;-webkit-text-stroke:0.12px #6f7b8b;">quinta-feira, 20 de novembro de 2025</span>
<span class="t" style="left:494.40px;top:257px;font-size:9.8px;color:#6f7b8b;letter-spacing:-0.030px;-webkit-text-stroke:0.3px #6f7b8b;">09:00 - 10:00</span>
<svg style="left:596px;top:256.8px" width="18" height="18"><use href="#av-ric"/></svg>
<span class="t" style="left:617.80px;top:257px;font-size:9.6px;color:#6f7b8b;letter-spacing:-0.157px;-webkit-text-stroke:0.3px #6f7b8b;">Ricardo José</span>
<div class="b" style="left:742.0px;top:256.9px;width:34px;height:18px;background:#e9ebee;border-radius:9px;"></div>
<span class="t" style="left:749.60px;top:257px;font-size:10px;color:#3d4858;letter-spacing:-0.272px;-webkit-text-stroke:0.16px #3d4858;">Aula</span>
<div class="b" style="left:779.8px;top:256.9px;width:44px;height:18px;background:#ebe3ed;border-radius:9px;"></div>
<span class="t" style="left:787.40px;top:257px;font-size:10px;color:#4b1a5c;letter-spacing:-0.147px;-webkit-text-stroke:0.16px #4b1a5c;">5º Ano</span>
<div class="b" style="left:827.6px;top:256.9px;width:90px;height:18px;background:#fde6ec;border-radius:9px;"></div>
<span class="t" style="left:835.20px;top:257px;font-size:10px;color:#ea2a60;letter-spacing:-0.254px;-webkit-text-stroke:0.16px #ea2a60;">Ciências Naturais</span>
<span class="t" style="left:1606.10px;top:257px;font-size:9.6px;color:#7c8797;letter-spacing:0.000px;-webkit-text-stroke:0.3px #7c8797;">2 dezembro</span>
<svg style="left:1661px;top:258px" width="16" height="16" viewBox="0 0 16 16"><g transform="translate(1.75 1.25)"><circle cx="6.2" cy="6.2" r="6.15" fill="#1eb83a"/><path d="M3.7 6.4 L5.4 8 L8.7 4.7" fill="none" stroke="#fff" stroke-width="1.3" stroke-linecap="round" stroke-linejoin="round"/></g></svg>
<div class="b" style="left:494px;top:286px;width:1208px;height:1px;background:#c6ced7;"></div>
<span class="t" style="left:494.40px;top:292px;font-size:9.8px;color:#6f7b8b;letter-spacing:-0.099px;-webkit-text-stroke:0.12px #6f7b8b;">quinta-feira, 13 de novembro de 2025</span>
<span class="t" style="left:494.40px;top:314px;font-size:9.8px;color:#6f7b8b;letter-spacing:-0.030px;-webkit-text-stroke:0.3px #6f7b8b;">09:00 - 10:00</span>
<svg style="left:596px;top:313.8px" width="18" height="18"><use href="#av-ric"/></svg>
<span class="t" style="left:617.80px;top:314px;font-size:9.6px;color:#6f7b8b;letter-spacing:-0.157px;-webkit-text-stroke:0.3px #6f7b8b;">Ricardo José</span>
<div class="b" style="left:742.0px;top:313.9px;width:34px;height:18px;background:#e9ebee;border-radius:9px;"></div>
<span class="t" style="left:749.60px;top:314px;font-size:10px;color:#3d4858;letter-spacing:-0.272px;-webkit-text-stroke:0.16px #3d4858;">Aula</span>
<div class="b" style="left:779.8px;top:313.9px;width:44px;height:18px;background:#ebe3ed;border-radius:9px;"></div>
<span class="t" style="left:787.40px;top:314px;font-size:10px;color:#4b1a5c;letter-spacing:-0.147px;-webkit-text-stroke:0.16px #4b1a5c;">5º Ano</span>
<div class="b" style="left:827.6px;top:313.9px;width:90px;height:18px;background:#fde6ec;border-radius:9px;"></div>
<span class="t" style="left:835.20px;top:314px;font-size:10px;color:#ea2a60;letter-spacing:-0.254px;-webkit-text-stroke:0.16px #ea2a60;">Ciências Naturais</span>
<span class="t" style="left:1600.50px;top:314px;font-size:9.6px;color:#7c8797;letter-spacing:0.026px;-webkit-text-stroke:0.3px #7c8797;">13 novembro</span>
<svg style="left:1661px;top:315px" width="16" height="16" viewBox="0 0 16 16"><g transform="translate(1.75 1.25)"><circle cx="6.2" cy="6.2" r="6.15" fill="#1eb83a"/><path d="M3.7 6.4 L5.4 8 L8.7 4.7" fill="none" stroke="#fff" stroke-width="1.3" stroke-linecap="round" stroke-linejoin="round"/></g></svg>
<div class="b" style="left:494px;top:343px;width:1208px;height:1px;background:#c6ced7;"></div>
<span class="t" style="left:494.40px;top:349px;font-size:9.8px;color:#6f7b8b;letter-spacing:-0.107px;-webkit-text-stroke:0.12px #6f7b8b;">quarta-feira, 12 de novembro de 2025</span>
<span class="t" style="left:494.40px;top:371px;font-size:9.8px;color:#6f7b8b;letter-spacing:-0.030px;-webkit-text-stroke:0.3px #6f7b8b;">08:00 - 09:00</span>
<svg style="left:596px;top:370.8px" width="18" height="18"><use href="#av-ric"/></svg>
<span class="t" style="left:617.80px;top:371px;font-size:9.6px;color:#6f7b8b;letter-spacing:-0.157px;-webkit-text-stroke:0.3px #6f7b8b;">Ricardo José</span>
<div class="b" style="left:742.0px;top:370.9px;width:34px;height:18px;background:#e9ebee;border-radius:9px;"></div>
<span class="t" style="left:749.60px;top:371px;font-size:10px;color:#3d4858;letter-spacing:-0.272px;-webkit-text-stroke:0.16px #3d4858;">Aula</span>
<div class="b" style="left:779.8px;top:370.9px;width:44px;height:18px;background:#ebe3ed;border-radius:9px;"></div>
<span class="t" style="left:787.40px;top:371px;font-size:10px;color:#4b1a5c;letter-spacing:-0.147px;-webkit-text-stroke:0.16px #4b1a5c;">5º Ano</span>
<div class="b" style="left:827.6px;top:370.9px;width:58.7px;height:18px;background:#f6e6ea;border-radius:9px;"></div>
<span class="t" style="left:835.20px;top:371px;font-size:10px;color:#a3214f;letter-spacing:-0.323px;-webkit-text-stroke:0.16px #a3214f;">Português</span>
<svg style="left:1661px;top:372px" width="16" height="16" viewBox="0 0 16 16"><g transform="translate(1.75 1.25)"><circle cx="6.2" cy="6.2" r="6.15" fill="#f26a3a"/><rect x="5.65" y="3.1" width="1.1" height="3.9" rx="0.4" fill="#fff" opacity="0.92"/><rect x="5.65" y="8" width="1.1" height="1.2" rx="0.4" fill="#fff" opacity="0.92"/></g></svg>
<div class="b" style="left:1690.1px;top:374.0px;width:11.8px;height:11.7px;border:1px solid #c3ccd6;border-radius:2.5px;background:#fff;"></div>
<div class="b" style="left:494px;top:400px;width:1208px;height:1px;background:#c6ced7;"></div>
<span class="t" style="left:494.40px;top:406px;font-size:9.8px;color:#6f7b8b;letter-spacing:-0.123px;-webkit-text-stroke:0.12px #6f7b8b;">quarta-feira, 28 de maio de 2025</span>
<span class="t" style="left:494.40px;top:428px;font-size:9.8px;color:#6f7b8b;letter-spacing:-0.030px;-webkit-text-stroke:0.3px #6f7b8b;">05:00 - 21:00</span>
<svg style="left:596px;top:427.8px" width="18" height="18"><use href="#av-bun"/></svg>
<span class="t" style="left:617.80px;top:428px;font-size:9.6px;color:#6f7b8b;letter-spacing:0.073px;-webkit-text-stroke:0.3px #6f7b8b;">Aluna 8</span>
<div class="b" style="left:742.0px;top:427.9px;width:47.8px;height:18px;background:#e6ebff;border-radius:9px;"></div>
<span class="t" style="left:749.60px;top:428px;font-size:10px;color:#2f55f2;letter-spacing:-0.165px;-webkit-text-stroke:0.16px #2f55f2;">Integral</span>
<div class="b" style="left:794.0px;top:427.9px;width:49.8px;height:18px;background:#e9ebee;border-radius:9px;"></div>
<span class="t" style="left:801.60px;top:428px;font-size:10px;color:#3d4858;letter-spacing:-0.272px;-webkit-text-stroke:0.16px #3d4858;">Aula</span>
<div class="b" style="left:825.0px;top:430.9px;width:12px;height:12px;background:#dc4432;border-radius:50%;"></div>
<span class="t" style="left:828.44px;top:427px;font-size:9.2px;color:#fff;font-weight:700;">3</span>
<svg style="left:846px;top:426px" width="17" height="17" viewBox="0 0 17 17"><g transform="translate(2.20 2.40)"><circle cx="6.5" cy="6.5" r="6.8" fill="#c9cdd3"/><path d="M5.5 5.5 h1.8 v3.4 h0.5 v0.9 h-2.6 v-0.9 h0.6 v-2.5 h-0.3 Z" fill="#eef0f3"/><rect x="5.75" y="3" width="1.5" height="1.5" rx="0.5" fill="#eef0f3"/></g></svg>
<span class="t" style="left:1623.00px;top:428px;font-size:9.6px;color:#7c8797;letter-spacing:-0.059px;-webkit-text-stroke:0.3px #7c8797;">28 maio</span>
<svg style="left:1661px;top:429px" width="16" height="16" viewBox="0 0 16 16"><g transform="translate(1.75 1.25)"><circle cx="6.2" cy="6.2" r="6.15" fill="#1eb83a"/><path d="M3.7 6.4 L5.4 8 L8.7 4.7" fill="none" stroke="#fff" stroke-width="1.3" stroke-linecap="round" stroke-linejoin="round"/></g></svg>
<div class="b" style="left:494px;top:457px;width:1208px;height:1px;background:#c6ced7;"></div>
<span class="t" style="left:494.40px;top:463px;font-size:9.8px;color:#6f7b8b;letter-spacing:-0.120px;-webkit-text-stroke:0.12px #6f7b8b;">quinta-feira, 22 de maio de 2025</span>
<span class="t" style="left:494.40px;top:485px;font-size:9.8px;color:#6f7b8b;letter-spacing:-0.030px;-webkit-text-stroke:0.3px #6f7b8b;">05:00 - 21:00</span>
<svg style="left:596px;top:484.8px" width="18" height="18"><use href="#av-mh"/></svg>
<span class="t" style="left:617.80px;top:485px;font-size:9.6px;color:#6f7b8b;letter-spacing:0.128px;-webkit-text-stroke:0.3px #6f7b8b;">Maria Helena</span>
<div class="b" style="left:742.0px;top:484.9px;width:47.8px;height:18px;background:#e6ebff;border-radius:9px;"></div>
<span class="t" style="left:749.60px;top:485px;font-size:10px;color:#2f55f2;letter-spacing:-0.165px;-webkit-text-stroke:0.16px #2f55f2;">Integral</span>
<div class="b" style="left:794.0px;top:484.9px;width:49.8px;height:18px;background:#e9ebee;border-radius:9px;"></div>
<span class="t" style="left:801.60px;top:485px;font-size:10px;color:#3d4858;letter-spacing:-0.272px;-webkit-text-stroke:0.16px #3d4858;">Aula</span>
<div class="b" style="left:825.0px;top:487.9px;width:12px;height:12px;background:#dc4432;border-radius:50%;"></div>
<span class="t" style="left:828.44px;top:484px;font-size:9.2px;color:#fff;font-weight:700;">6</span>
<svg style="left:846px;top:483px" width="17" height="17" viewBox="0 0 17 17"><g transform="translate(2.20 2.40)"><circle cx="6.5" cy="6.5" r="6.8" fill="#c9cdd3"/><path d="M5.5 5.5 h1.8 v3.4 h0.5 v0.9 h-2.6 v-0.9 h0.6 v-2.5 h-0.3 Z" fill="#eef0f3"/><rect x="5.75" y="3" width="1.5" height="1.5" rx="0.5" fill="#eef0f3"/></g></svg>
<span class="t" style="left:1623.00px;top:485px;font-size:9.6px;color:#7c8797;letter-spacing:-0.059px;-webkit-text-stroke:0.3px #7c8797;">28 maio</span>
<svg style="left:1661px;top:486px" width="16" height="16" viewBox="0 0 16 16"><g transform="translate(1.75 1.25)"><circle cx="6.2" cy="6.2" r="6.15" fill="#1eb83a"/><path d="M3.7 6.4 L5.4 8 L8.7 4.7" fill="none" stroke="#fff" stroke-width="1.3" stroke-linecap="round" stroke-linejoin="round"/></g></svg>
<div class="b" style="left:494px;top:514px;width:1208px;height:1px;background:#c6ced7;"></div>
<span class="t" style="left:494.40px;top:520px;font-size:9.8px;color:#6f7b8b;letter-spacing:-0.140px;-webkit-text-stroke:0.12px #6f7b8b;">terça-feira, 13 de maio de 2025</span>
<span class="t" style="left:494.40px;top:542px;font-size:9.8px;color:#6f7b8b;letter-spacing:-0.030px;-webkit-text-stroke:0.3px #6f7b8b;">05:00 - 21:00</span>
<svg style="left:596px;top:541.8px" width="18" height="18"><use href="#av-bun"/></svg>
<span class="t" style="left:617.80px;top:542px;font-size:9.6px;color:#6f7b8b;letter-spacing:0.073px;-webkit-text-stroke:0.3px #6f7b8b;">Aluna 8</span>
<div class="b" style="left:742.0px;top:541.9px;width:47.8px;height:18px;background:#e6ebff;border-radius:9px;"></div>
<span class="t" style="left:749.60px;top:542px;font-size:10px;color:#2f55f2;letter-spacing:-0.165px;-webkit-text-stroke:0.16px #2f55f2;">Integral</span>
<svg style="left:1661px;top:543px" width="16" height="16" viewBox="0 0 16 16"><g transform="translate(1.75 1.25)"><circle cx="6.2" cy="6.2" r="6.15" fill="#fbb535"/><rect x="5.65" y="3.1" width="1.1" height="3.9" rx="0.4" fill="#fff" opacity="0.92"/><rect x="5.65" y="8" width="1.1" height="1.2" rx="0.4" fill="#fff" opacity="0.92"/></g></svg>
<div class="b" style="left:1690.1px;top:545.0px;width:11.8px;height:11.7px;border:1px solid #c3ccd6;border-radius:2.5px;background:#fff;"></div>
<div class="b" style="left:494px;top:571px;width:1208px;height:1px;background:#c6ced7;"></div>
<span class="t" style="left:494.40px;top:576px;font-size:9.8px;color:#6f7b8b;letter-spacing:-0.186px;-webkit-text-stroke:0.12px #6f7b8b;">sexta-feira, 2 de maio de 2025</span>
<span class="t" style="left:494.40px;top:599px;font-size:9.8px;color:#6f7b8b;letter-spacing:-0.030px;-webkit-text-stroke:0.3px #6f7b8b;">05:00 - 21:00</span>
<svg style="left:596px;top:598.75px" width="18" height="18"><use href="#av-bun"/></svg>
<span class="t" style="left:617.80px;top:599px;font-size:9.6px;color:#6f7b8b;letter-spacing:0.073px;-webkit-text-stroke:0.3px #6f7b8b;">Aluna 8</span>
<div class="b" style="left:742.0px;top:598.9px;width:47.8px;height:18px;background:#e6ebff;border-radius:9px;"></div>
<span class="t" style="left:749.60px;top:599px;font-size:10px;color:#2f55f2;letter-spacing:-0.165px;-webkit-text-stroke:0.16px #2f55f2;">Integral</span>
<svg style="left:1661px;top:600px" width="16" height="16" viewBox="0 0 16 16"><g transform="translate(1.75 1.20)"><circle cx="6.2" cy="6.2" r="6.15" fill="#f26a3a"/><rect x="5.65" y="3.1" width="1.1" height="3.9" rx="0.4" fill="#fff" opacity="0.92"/><rect x="5.65" y="8" width="1.1" height="1.2" rx="0.4" fill="#fff" opacity="0.92"/></g></svg>
<div class="b" style="left:1690.1px;top:602.0px;width:11.8px;height:11.7px;border:1px solid #c3ccd6;border-radius:2.5px;background:#fff;"></div>
<span class="t" style="left:494.40px;top:624px;font-size:9.8px;color:#6f7b8b;letter-spacing:-0.030px;-webkit-text-stroke:0.3px #6f7b8b;">05:00 - 21:00</span>
<svg style="left:596px;top:623.8px" width="18" height="18"><use href="#av-mh"/></svg>
<span class="t" style="left:617.80px;top:624px;font-size:9.6px;color:#6f7b8b;letter-spacing:0.128px;-webkit-text-stroke:0.3px #6f7b8b;">Maria Helena</span>
<div class="b" style="left:742.0px;top:623.9px;width:47.8px;height:18px;background:#e6ebff;border-radius:9px;"></div>
<span class="t" style="left:749.60px;top:624px;font-size:10px;color:#2f55f2;letter-spacing:-0.165px;-webkit-text-stroke:0.16px #2f55f2;">Integral</span>
<svg style="left:1661px;top:625px" width="16" height="16" viewBox="0 0 16 16"><g transform="translate(1.75 1.25)"><circle cx="6.2" cy="6.2" r="6.15" fill="#fbb535"/><rect x="5.65" y="3.1" width="1.1" height="3.9" rx="0.4" fill="#fff" opacity="0.92"/><rect x="5.65" y="8" width="1.1" height="1.2" rx="0.4" fill="#fff" opacity="0.92"/></g></svg>
<div class="b" style="left:1690.1px;top:627.0px;width:11.8px;height:11.7px;border:1px solid #c3ccd6;border-radius:2.5px;background:#fff;"></div>
<div class="b" style="left:494px;top:653px;width:1208px;height:1px;background:#c6ced7;"></div>
<span class="t" style="left:494.40px;top:659px;font-size:9.8px;color:#6f7b8b;letter-spacing:-0.090px;-webkit-text-stroke:0.12px #6f7b8b;">terça-feira, 15 de abril de 2025</span>
<span class="t" style="left:494.40px;top:681px;font-size:9.8px;color:#6f7b8b;letter-spacing:-0.030px;-webkit-text-stroke:0.3px #6f7b8b;">05:00 - 21:00</span>
<svg style="left:596px;top:680.8px" width="18" height="18"><use href="#av-bun"/></svg>
<span class="t" style="left:617.80px;top:681px;font-size:9.6px;color:#6f7b8b;letter-spacing:0.073px;-webkit-text-stroke:0.3px #6f7b8b;">Aluna 8</span>
<div class="b" style="left:742.0px;top:680.9px;width:47.8px;height:18px;background:#e6ebff;border-radius:9px;"></div>
<span class="t" style="left:749.60px;top:681px;font-size:10px;color:#2f55f2;letter-spacing:-0.165px;-webkit-text-stroke:0.16px #2f55f2;">Integral</span>
<svg style="left:1661px;top:682px" width="16" height="16" viewBox="0 0 16 16"><g transform="translate(1.75 1.25)"><circle cx="6.2" cy="6.2" r="6.15" fill="#fbb535"/><rect x="5.65" y="3.1" width="1.1" height="3.9" rx="0.4" fill="#fff" opacity="0.92"/><rect x="5.65" y="8" width="1.1" height="1.2" rx="0.4" fill="#fff" opacity="0.92"/></g></svg>
<div class="b" style="left:1690.1px;top:684.0px;width:11.8px;height:11.7px;border:1px solid #c3ccd6;border-radius:2.5px;background:#fff;"></div>
<div class="b" style="left:494px;top:710px;width:1208px;height:1px;background:#c6ced7;"></div>
<span class="t" style="left:494.40px;top:716px;font-size:9.8px;color:#6f7b8b;letter-spacing:-0.064px;-webkit-text-stroke:0.12px #6f7b8b;">quinta-feira, 13 de fevereiro de 2025</span>
<span class="t" style="left:494.40px;top:738px;font-size:9.8px;color:#6f7b8b;letter-spacing:-0.030px;-webkit-text-stroke:0.3px #6f7b8b;">05:00 - 21:00</span>
<svg style="left:596px;top:737.8px" width="18" height="18"><use href="#av-mh"/></svg>
<span class="t" style="left:617.80px;top:738px;font-size:9.6px;color:#6f7b8b;letter-spacing:0.128px;-webkit-text-stroke:0.3px #6f7b8b;">Maria Helena</span>
<div class="b" style="left:742.0px;top:737.9px;width:47.8px;height:18px;background:#e6ebff;border-radius:9px;"></div>
<span class="t" style="left:749.60px;top:738px;font-size:10px;color:#2f55f2;letter-spacing:-0.165px;-webkit-text-stroke:0.16px #2f55f2;">Integral</span>
<svg style="left:1661px;top:739px" width="16" height="16" viewBox="0 0 16 16"><g transform="translate(1.75 1.25)"><circle cx="6.2" cy="6.2" r="6.15" fill="#fbb535"/><rect x="5.65" y="3.1" width="1.1" height="3.9" rx="0.4" fill="#fff" opacity="0.92"/><rect x="5.65" y="8" width="1.1" height="1.2" rx="0.4" fill="#fff" opacity="0.92"/></g></svg>
<div class="b" style="left:1690.1px;top:741.0px;width:11.8px;height:11.7px;border:1px solid #c3ccd6;border-radius:2.5px;background:#fff;"></div>
<div class="b" style="left:494px;top:767px;width:1208px;height:1px;background:#c6ced7;"></div>
<div class="b" style="left:1709px;top:157px;width:3px;height:618px;background:#f4f5f6;"></div>
<div class="b" style="left:1709px;top:157px;width:3px;height:574px;background:#c2c3c6;border-radius:1.5px;"></div>
<div class="b" style="left:494px;top:784px;width:1219px;height:97px;background:#f4f7f8;"></div>
<div class="b" style="left:509px;top:799px;width:1189px;height:27px;border:1px solid #c3ccd6;border-radius:3px;background:#f4f7f8;"></div>
<span class="t" style="left:518.20px;top:804px;font-size:10.5px;color:#7a8594;letter-spacing:-0.324px;-webkit-text-stroke:0.12px #7a8594;">Escreva a sua mensagem relativa ao processo aqui...</span>
<div class="b" style="left:509px;top:832px;width:382px;height:27px;border:1px solid #c3ccd6;border-radius:3px;background:linear-gradient(#ffffff,#f1f3f6);"></div>
<span class="t" style="left:518.20px;top:837px;font-size:9.5px;color:#4a5568;letter-spacing:-0.265px;-webkit-text-stroke:0.12px #4a5568;">-- Motivo de justificação --</span>
<svg style="left:874px;top:844px" width="7" height="5" viewBox="0 0 7 5"><path d="M0.8 0.8 L3.4 3.6 L6 0.8" fill="none" stroke="#aab3bf" stroke-width="1"/></svg>
<div class="b" style="left:913px;top:832px;width:381px;height:27px;border:1px solid #c3ccd6;border-radius:3px;background:linear-gradient(#ffffff,#f1f3f6);"></div>
<span class="t" style="left:922.20px;top:837px;font-size:9.5px;color:#4a5568;letter-spacing:-0.333px;-webkit-text-stroke:0.12px #4a5568;">-- Motivo de recusa de justificação --</span>
<svg style="left:1277px;top:844px" width="7" height="5" viewBox="0 0 7 5"><path d="M0.8 0.8 L3.4 3.6 L6 0.8" fill="none" stroke="#aab3bf" stroke-width="1"/></svg>
<div class="b" style="left:1608px;top:832px;width:90px;height:23px;border:1.5px solid #019ee8;border-radius:3px;background:#fff;"></div>
<span class="t" style="left:1630.65px;top:834px;font-size:10.5px;color:#1b9be3;letter-spacing:-0.118px;-webkit-text-stroke:0.12px #1b9be3;">Submeter</span>
<svg style="left:1660px;top:796px" width="44" height="34" viewBox="1660 796 44 34"><path d="M1680.2 806.9 L1671.3 814.5 C1668.7 816.9 1669.3 820.3 1672.3 820.6 C1673.9 820.8 1675 820.1 1676 819.3 L1682.1 814.8 M1678 811 L1673.7 814.9 C1672 816.5 1673.5 818.7 1675.3 817.4 L1680.9 812.6" fill="none" stroke="#80828f" stroke-width="1.1" stroke-linecap="round"/></svg>
<div class="b" style="left:1680.5px;top:803px;width:11.8px;height:11.8px;background:#019ee8;border-radius:50%;"></div>
<span class="t" style="left:1684.18px;top:800px;font-size:8px;color:#fff;font-weight:700;">0</span>
<svg style="left:0;top:586px" width="46" height="22" viewBox="0 0 46 22"><path d="M0 8.8 H26 V1.9 L44.2 11.4 L26 20.4 V14.2 H0 Z" fill="#ff5400"/></svg>
</body></html>
